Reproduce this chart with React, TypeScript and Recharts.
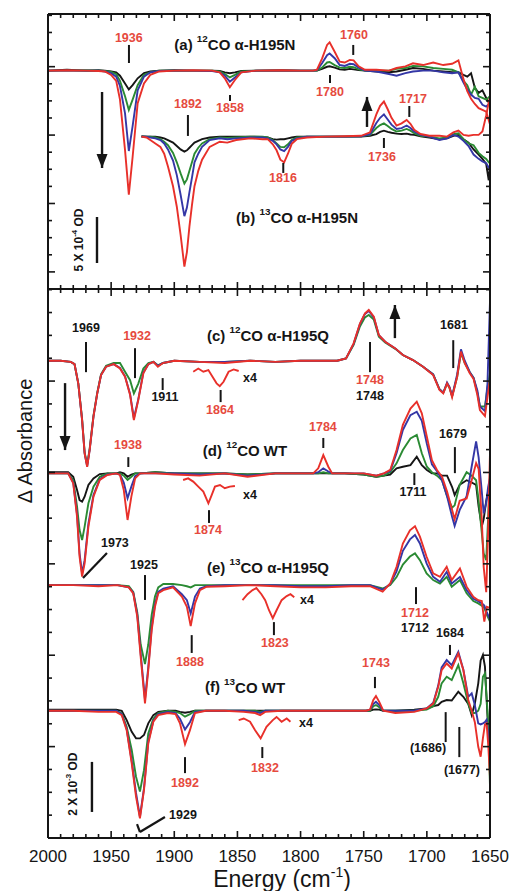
import React from "react";
import { LineChart, Line, XAxis, YAxis, ReferenceLine, ReferenceDot } from "recharts";

const FONT = "'Liberation Sans', Arial, Helvetica, sans-serif";
const RED = "#e8302a";
const BLUE = "#3437a6";
const GREEN = "#2a8a33";
const INK = "#151515";
const LABEL_RED = "#e64a3e";

// axis ticks (cm-1 and offset units)
const X_MINOR = [2000, 1990, 1980, 1970, 1960, 1950, 1940, 1930, 1920, 1910, 1900, 1890, 1880, 1870, 1860, 1850, 1840, 1830, 1820, 1810, 1800, 1790, 1780, 1770, 1760, 1750, 1740, 1730, 1720, 1710, 1700, 1690, 1680, 1670, 1660, 1650];
const X_MAJOR = [2000, 1950, 1900, 1850, 1800, 1750, 1700, 1650];
const TOP_Y_MINOR = [0, 2, 4, 6, 8, 10, 12, 14, 16, 18, 20, 22, 24, 26, 28, 30, 32];
const TOP_Y_MAJOR = [2, 10, 18, 26];
const BOT_Y_MINOR = [0, 1, 2, 3, 4, 5, 6, 7, 8, 9, 10, 11, 12, 13, 14, 15, 16, 17, 18, 19, 20, 21, 22, 23, 24];
const BOT_Y_MAJOR = [4, 8, 12, 16, 20];

// baseline offsets of the stacked difference spectra
const OFFSET = { a: 25.54, b: 17.82, c: 20.89, d: 15.96, e: 11.07, f: 5.57, ic: 20.48, id: 15.67, ie: 10.63, if: 5.16 };

// (a) 12CO a-H195N
const A_X = [2000, 1985, 1970, 1960, 1955, 1950, 1946, 1943, 1939, 1936, 1933, 1929, 1924, 1919, 1912, 1900, 1885, 1870, 1864, 1860, 1856, 1852, 1847, 1835, 1815, 1800, 1790, 1787, 1783, 1779, 1777, 1773, 1769, 1765, 1761, 1758, 1754, 1749, 1740, 1730, 1724, 1717, 1711, 1703, 1695, 1687, 1680, 1675, 1671, 1668, 1665, 1662, 1659, 1656, 1653, 1650];
const A_BLACK = [0, 0.1, 0, 0.05, 0, -0.1, -0.2, -0.6, -1.5, -2.2, -1.7, -0.9, -0.3, -0.1, 0, 0.05, 0, 0, -0.05, -0.2, -0.3, -0.2, -0.05, 0, 0.05, 0, 0, 0, 0.2, 0.45, 0.5, 0.35, 0.15, 0.1, 0.2, 0.15, 0.05, 0, -0.1, -0.2, -0.1, 0.1, 0.3, 0.2, 0, -0.1, -0.2, -0.2, -0.5, -0.7, -0.3, -2.0, -2.6, -2.3, -3.2, -4.0];
const A_GREEN = [0, 0, 0.05, 0, -0.05, -0.15, -0.4, -1.2, -3.0, -4.6, -3.4, -1.7, -0.5, -0.2, 0, 0, 0, 0, -0.1, -0.4, -0.8, -0.5, -0.1, 0, 0, 0, 0, 0, 0.35, 0.95, 1.0, 0.65, 0.35, 0.3, 0.45, 0.4, 0.15, 0, 0, 0, 0.2, 0.3, 0.55, 0.5, 0.3, 0.2, 0.1, -0.2, -1.2, -1.7, -2.8, -1.9, -3.0, -3.2, -3.4, -3.0];
const A_BLUE = [0, 0, 0, 0, -0.1, -0.3, -0.7, -1.8, -5.0, -9.4, -6.5, -2.3, -0.7, -0.2, -0.05, 0, 0, -0.05, -0.2, -0.6, -1.3, -0.8, -0.2, 0, 0, 0, 0, 0.05, 0.85, 1.8, 2.0, 1.45, 0.65, 0.55, 0.8, 0.75, 0.35, 0, -0.1, -0.4, -0.6, -0.3, -0.1, 0, 0, -0.2, -0.3, -0.2, -1.4, -2.2, -2.8, -3.2, -3.3, -4.0, -4.2, -3.8];
const A_RED = [0, 0.05, 0, -0.05, -0.1, -0.5, -1.2, -3.4, -9.3, -14.5, -10.1, -3.8, -1.5, -0.5, -0.1, 0, 0.05, 0, -0.2, -0.9, -1.95, -1.1, -0.2, 0, 0.05, 0, 0, 0.1, 1.4, 3.0, 3.3, 2.2, 1.05, 0.95, 1.25, 1.2, 0.5, 0.1, 0.1, 0, 0.3, 0.5, 0.85, 0.65, 0.95, 0.65, 0.8, 1.2, -1.0, -2.4, -3.3, -3.9, -4.4, -4.6, -4.8, -6.3];

// (b) 13CO a-H195N
const B_X = [1926, 1922, 1919, 1915, 1911, 1908, 1905, 1901, 1898, 1895, 1892, 1890, 1888, 1886, 1884, 1881, 1878, 1872, 1864, 1858, 1851, 1840, 1830, 1826, 1822, 1819, 1816, 1813, 1810, 1807, 1803, 1795, 1780, 1765, 1752, 1745, 1740, 1737, 1734, 1731, 1728, 1724, 1720, 1716, 1713, 1710, 1705, 1698, 1690, 1684, 1679, 1675, 1671, 1667, 1663, 1659, 1656, 1653, 1651, 1650];
const B_BLACK = [0.05, 0, 0, 0, -0.1, -0.2, -0.4, -0.7, -1.1, -1.5, -1.75, -1.6, -1.3, -1.0, -0.7, -0.5, -0.3, -0.1, 0, 0, 0, 0, -0.05, -0.1, -0.3, -0.35, -0.3, -0.3, -0.2, -0.1, 0, 0, 0, 0, 0, 0.1, 0.3, 0.55, 0.7, 0.55, 0.45, 0.35, 0.3, 0.35, 0.25, 0.2, 0.05, -0.1, -0.3, -0.2, 0.1, 0.2, -0.3, -0.7, -1.5, -2.1, -2.6, -3.2, -5.1, -3.5];
const B_GREEN = [0, 0, 0, -0.1, -0.3, -0.6, -1.0, -1.9, -3.0, -4.3, -5.5, -5.0, -4.0, -3.0, -2.0, -1.3, -0.8, -0.3, -0.1, -0.15, -0.1, 0, 0, -0.1, -0.4, -0.8, -1.2, -1.25, -0.9, -0.4, -0.1, 0, 0, 0, 0.05, 0.2, 1.0, 1.35, 1.55, 1.25, 0.9, 0.6, 0.7, 0.9, 0.7, 0.4, 0.1, 0, -0.2, -0.1, 0.3, 0.4, -0.3, -0.8, -1.0, -1.9, -2.3, -2.6, -3.0, -3.1];
const B_BLUE = [0, 0, -0.1, -0.2, -0.4, -0.8, -1.5, -2.8, -4.5, -6.8, -9.3, -8.3, -6.5, -4.8, -3.0, -2.0, -1.2, -0.4, -0.2, -0.3, -0.2, -0.1, -0.1, -0.2, -0.5, -0.9, -1.5, -1.7, -1.2, -0.5, -0.2, 0, 0, 0, 0.05, 0.3, 1.6, 2.2, 2.6, 2.0, 1.4, 0.9, 1.0, 1.3, 1.0, 0.6, 0.2, 0, -0.4, -0.2, 0.2, 0, -0.5, -1.1, -2.1, -2.6, -2.9, -3.1, -3.6, -3.9];
const B_RED = [0, -0.1, -0.4, -0.8, -1.2, -2.0, -3.5, -5.8, -8.2, -11.5, -15.2, -13.5, -10.5, -8.0, -5.8, -4.0, -2.7, -1.2, -0.6, -0.7, -0.4, -0.2, -0.3, -0.3, -0.9, -1.6, -2.7, -3.0, -2.0, -0.85, -0.3, -0.1, 0, 0.05, 0.1, 0.5, 2.6, 3.6, 4.1, 3.2, 2.2, 1.3, 1.55, 1.95, 1.5, 0.8, 0.3, 0.1, 0.1, 0, 0.5, 0.7, 0.2, 0.1, 0.2, 0.2, 0.6, 2.5, 4.0, 4.6];

// (c) 12CO a-H195Q
const C_X = [2000, 1990, 1982, 1979, 1976, 1973, 1971, 1969, 1967, 1964, 1961, 1958, 1954, 1948, 1943, 1939, 1935, 1932, 1928.5, 1924.5, 1920.5, 1916.5, 1913, 1909, 1900, 1880, 1860, 1840, 1820, 1800, 1780, 1771, 1764, 1758, 1753, 1749, 1746, 1742, 1738, 1733, 1725, 1719, 1711, 1703, 1695, 1690, 1687, 1684, 1682, 1680, 1676, 1673, 1670, 1666, 1663, 1660, 1658, 1654, 1652, 1650];
const C_GREEN = [0, 0, -0.05, -0.15, -1.0, -2.55, -4.0, -4.55, -3.85, -2.4, -1.4, -0.6, -0.22, -0.1, -0.1, -0.48, -0.85, -1.43, -1.0, -0.34, -0.1, -0.05, -0.2, -0.1, 0, -0.05, -0.05, 0, -0.05, 0, 0, 0, 0.1, 0.7, 1.5, 1.9, 2.0, 1.8, 1.05, 0.8, 0.52, 0.25, 0.03, -0.26, -0.6, -1.25, -1.4, -1.0, -1.2, -1.55, -0.7, 0.35, -0.1, -0.5, -0.75, -1.4, -2.0, -2.0, -1.2, -0.5];
const C_BLUE = [0, 0, -0.05, -0.15, -1.0, -2.6, -4.05, -4.62, -3.9, -2.45, -1.43, -0.63, -0.26, -0.15, -0.32, -0.68, -1.45, -2.52, -1.68, -0.52, -0.15, -0.05, -0.22, -0.1, 0, -0.05, -0.05, 0, -0.05, 0, 0, 0, 0.1, 0.74, 1.6, 2.05, 2.18, 1.9, 1.12, 0.83, 0.54, 0.25, 0.03, -0.26, -0.6, -1.25, -1.4, -0.95, -1.15, -1.55, -0.6, 0.5, 0, -0.5, -0.75, -1.3, -2.0, -2.2, -1.0, 2.6];
const C_RED = [0, 0, -0.05, -0.15, -1.0, -2.6, -4.05, -4.64, -3.9, -2.45, -1.43, -0.63, -0.26, -0.15, -0.34, -0.7, -1.5, -2.6, -1.72, -0.55, -0.15, -0.05, -0.26, -0.1, 0, -0.05, -0.1, 0, -0.05, 0, 0, 0, 0.1, 0.76, 1.63, 2.07, 2.22, 1.93, 1.12, 0.83, 0.54, 0.25, 0.03, -0.26, -0.63, -1.28, -1.43, -1.0, -1.2, -1.6, -0.7, 0.4, -0.1, -0.55, -0.8, -1.5, -2.16, -2.42, -1.6, -0.8];

// (d) 12CO WT
const D_X = [2000, 1990, 1984, 1980, 1977, 1975, 1973, 1971, 1968, 1964, 1959, 1953, 1946, 1943, 1940, 1937, 1934, 1931, 1927, 1915, 1900, 1880, 1860, 1842, 1820, 1800, 1790, 1786, 1782, 1778, 1775, 1765, 1750, 1740, 1734, 1729, 1724, 1719, 1713, 1708, 1704, 1700, 1696, 1692, 1688, 1684, 1680, 1678, 1674, 1668.5, 1664.5, 1661, 1659, 1656.5, 1655, 1653, 1651.5, 1650];
const D_BLACK = [0.05, 0.05, 0.05, -0.15, -0.73, -1.17, -1.24, -1.02, -0.51, -0.22, -0.03, 0, 0, 0.05, 0, -0.15, -0.05, 0, 0, 0.05, 0, 0, 0, -0.05, 0, 0, 0, 0, 0, 0, 0, 0, -0.05, -0.15, -0.1, -0.05, 0.22, 0.29, 0.36, 0.73, 0.36, 0.15, 0, 0, -0.1, -0.1, -0.6, -0.95, -0.5, -0.3, -0.4, -0.5, -1.46, -2.33, -2.0, -1.2, -0.8, -0.5];
const D_GREEN = [0, 0, 0, -0.3, -1.46, -2.48, -2.92, -2.33, -1.31, -0.58, -0.15, 0, 0, 0, -0.1, -0.29, -0.15, 0, 0, 0.05, 0, 0, 0, -0.05, 0, 0, 0, 0, 0.05, 0, 0, 0, -0.05, -0.15, -0.1, 0.05, 0.44, 1.02, 1.53, 1.68, 0.88, 0.29, 0.05, -0.1, -0.3, -1.0, -1.5, -1.4, -0.5, 0.05, -0.1, -0.3, -1.2, -2.6, -3.5, -3.8, -2.0, 0];
const D_BLUE = [0, 0, 0, -0.4, -1.8, -3.5, -4.38, -3.8, -2.2, -0.95, -0.25, -0.05, 0, -0.05, -0.4, -1.09, -0.58, -0.12, 0, 0, 0, -0.05, 0, -0.1, 0, 0, 0, 0.05, 0.22, 0.08, 0, 0, 0, -0.1, 0, 0.1, 0.88, 1.9, 2.55, 2.7, 2.3, 1.3, 0.4, 0.1, -0.3, -1.0, -1.9, -2.3, -1.6, -1.0, 0.3, 1.4, 0.7, -0.8, -1.75, -1.3, -0.6, -0.2];
const D_RED = [0, 0, 0, -0.44, -1.9, -3.65, -4.52, -3.94, -2.33, -1.02, -0.29, -0.07, 0, -0.07, -0.73, -2.04, -1.02, -0.22, 0, 0, -0.05, -0.1, 0, -0.15, 0, 0, 0, 0.22, 0.8, 0.29, 0, 0, 0, -0.1, 0, 0.15, 1.02, 2.12, 2.84, 3.14, 2.63, 1.6, 0.58, 0.15, -0.15, -0.8, -1.6, -2.0, -1.2, -1.1, -0.3, 0.45, 0.2, -2.0, -4.1, -5.2, -2.6, 0.9];

// (e) 13CO a-H195Q
const E_X = [2000, 1980, 1960, 1945, 1936, 1932.5, 1929.3, 1926.6, 1923.2, 1920.6, 1917.9, 1915.3, 1912.7, 1908.7, 1901, 1894, 1890, 1887, 1883.6, 1879.7, 1874.4, 1860, 1840, 1820, 1800, 1780, 1760, 1745, 1735, 1729, 1724, 1719, 1713.4, 1709.4, 1705.5, 1700.2, 1695, 1689.6, 1684.3, 1680.3, 1673.8, 1668.5, 1663.2, 1659.3, 1656.5, 1654.5, 1652.5, 1650];
const E_GREEN = [0, 0, 0, 0, -0.05, -0.3, -1.2, -2.6, -3.46, -2.6, -1.3, -0.5, -0.1, 0.05, 0.05, 0, -0.05, -0.1, 0, 0, 0, 0, 0, 0, 0, 0, 0, 0, -0.15, 0, 0.35, 0.9, 1.25, 1.39, 1.09, 0.51, 0.22, 0.07, 0.36, -0.07, 0.22, -0.36, -0.7, -0.8, -0.9, -1.0, -1.3, -1.6];
const E_BLUE = [0, 0, 0, 0, -0.1, -0.33, -1.3, -3.0, -5.0, -3.6, -1.85, -0.85, -0.3, -0.15, -0.05, -0.4, -0.66, -1.24, -0.5, -0.15, -0.05, 0, 0, 0, -0.05, -0.05, 0, 0, -0.2, 0.05, 0.6, 1.5, 2.0, 2.19, 1.82, 0.95, 0.36, 0.15, 0.58, 0.07, 0.36, -0.22, -0.6, -0.7, -0.8, -0.9, -1.2, -1.5];
const E_RED = [0, 0, -0.05, 0, -0.1, -0.36, -1.39, -3.14, -5.18, -3.72, -1.97, -0.95, -0.36, -0.22, -0.1, -0.5, -0.95, -1.79, -0.8, -0.22, -0.07, -0.05, 0, -0.05, -0.1, -0.1, -0.05, -0.05, -0.29, 0.07, 0.8, 1.82, 2.4, 2.58, 2.12, 1.24, 0.51, 0.36, 0.8, 0.22, 0.73, -0.07, -0.51, -0.66, -0.7, -1.6, -0.95, -1.0];

// (f) 13CO WT
const F_X = [2000, 1980, 1960, 1946, 1941.6, 1937.7, 1933.7, 1930.3, 1927.2, 1924, 1920.6, 1916.6, 1912.7, 1905, 1899, 1895.5, 1891.5, 1887.6, 1883.6, 1875, 1860, 1845, 1836, 1832, 1828, 1815, 1790, 1760, 1748, 1745, 1742.4, 1740.3, 1737.7, 1734.5, 1725, 1710, 1700.2, 1694.9, 1691, 1688.3, 1684.3, 1680.3, 1675.1, 1671.1, 1667.2, 1664.5, 1662, 1659.3, 1657.4, 1655.6, 1654, 1652.7, 1651.4, 1650];
const F_BLACK = [0.05, 0.05, 0.05, 0.05, 0, -0.41, -0.92, -1.21, -1.21, -1.06, -0.55, -0.19, -0.05, 0, 0, -0.05, -0.09, -0.05, 0, 0, 0, 0, 0, 0, 0, 0, 0, 0, 0, 0, 0.05, 0.06, 0.05, 0, 0, 0.05, 0.1, 0.2, 0.25, 0.39, 0.47, 0.45, 0.83, 0.61, 0.3, -0.19, 0.32, 1.2, 2.2, 2.44, 1.93, 0.5, -0.85, -2.0];
const F_GREEN = [0, 0, 0, 0, -0.12, -0.7, -1.72, -2.89, -3.54, -2.6, -0.99, -0.35, -0.1, 0, -0.05, -0.1, -0.26, -0.15, 0, 0, 0, 0, 0, -0.05, 0, 0, 0, 0, 0, 0, 0.2, 0.25, 0.15, 0, 0, 0, 0.05, 0.2, 0.61, 1.2, 1.49, 1.34, 2.0, 1.2, 0.32, -0.1, -0.1, 0, 0.3, 1.49, 1.63, 0.6, -0.55, -3.3];
const F_BLUE = [0, 0, 0, 0, -0.15, -0.8, -2.2, -3.6, -4.64, -3.4, -1.35, -0.45, -0.15, -0.05, -0.1, -0.35, -0.82, -0.5, -0.05, 0, 0, 0, -0.05, -0.1, 0, 0, 0, 0, 0, 0.05, 0.3, 0.39, 0.25, 0, 0, 0, 0.1, 0.35, 1.1, 1.9, 2.22, 2.0, 2.58, 1.8, 0.61, 0.76, 0.25, -0.55, -0.6, -0.55, -0.5, -0.4, -1.0, -2.0];
const F_RED = [0, 0, -0.05, -0.05, -0.19, -0.85, -2.3, -3.76, -4.71, -3.47, -1.43, -0.48, -0.19, -0.1, -0.15, -0.55, -1.46, -0.85, -0.1, 0, 0, -0.05, -0.1, -0.19, -0.05, 0, 0, 0, 0, 0.05, 0.47, 0.64, 0.39, 0, -0.1, -0.05, 0.1, 0.32, 1.05, 1.78, 2.07, 1.85, 2.51, 1.78, 0.47, 0, -0.5, -1.58, -2.01, -1.2, -0.6, -0.55, -1.5, -2.9];

// x4 expanded insets (red trace)
const IC_X = [1885, 1881, 1877, 1873, 1869, 1866.5, 1864, 1861, 1857, 1853, 1849];
const IC_Y = [-0.07, 0.07, -0.07, 0, -0.36, -0.58, -0.7, -0.51, -0.07, 0.03, -0.04];
const ID_X = [1893, 1889, 1885, 1881, 1877, 1873, 1870.4, 1867.8, 1863.8, 1860, 1856, 1852];
const ID_Y = [0, 0.07, -0.07, -0.29, -0.51, -1.02, -0.66, -0.29, -0.22, -0.36, -0.29, -0.26];
const IE_X = [1846, 1842, 1838, 1835, 1831, 1828, 1825, 1822, 1819, 1815, 1811, 1808, 1805];
const IE_Y = [-0.22, 0.04, 0.22, 0.31, 0.04, -0.22, -0.66, -1.01, -0.66, -0.22, -0.04, 0.04, -0.09];
const IF_X = [1849, 1845, 1840, 1836, 1831.6, 1827, 1822, 1819, 1815, 1811, 1808];
const IF_Y = [0, 0.07, -0.07, -0.44, -0.8, -0.29, 0, 0.14, -0.07, 0.07, -0.07];

type Pt = { x: number; y: number };
const stack = (xs: number[], ys: number[], off: number): Pt[] => xs.map((x, i) => ({ x, y: ys[i] + off }));

type Series = { id: string; color: string; data: Pt[] };

const TOP_SERIES: Series[] = [
  { id: "a-k", color: INK, data: stack(A_X, A_BLACK, OFFSET.a) },
  { id: "a-g", color: GREEN, data: stack(A_X, A_GREEN, OFFSET.a) },
  { id: "a-b", color: BLUE, data: stack(A_X, A_BLUE, OFFSET.a) },
  { id: "a-r", color: RED, data: stack(A_X, A_RED, OFFSET.a) },
  { id: "b-k", color: INK, data: stack(B_X, B_BLACK, OFFSET.b) },
  { id: "b-g", color: GREEN, data: stack(B_X, B_GREEN, OFFSET.b) },
  { id: "b-b", color: BLUE, data: stack(B_X, B_BLUE, OFFSET.b) },
  { id: "b-r", color: RED, data: stack(B_X, B_RED, OFFSET.b) },
];

const BOTTOM_SERIES: Series[] = [
  { id: "c-g", color: GREEN, data: stack(C_X, C_GREEN, OFFSET.c) },
  { id: "c-b", color: BLUE, data: stack(C_X, C_BLUE, OFFSET.c) },
  { id: "c-r", color: RED, data: stack(C_X, C_RED, OFFSET.c) },
  { id: "d-k", color: INK, data: stack(D_X, D_BLACK, OFFSET.d) },
  { id: "d-g", color: GREEN, data: stack(D_X, D_GREEN, OFFSET.d) },
  { id: "d-b", color: BLUE, data: stack(D_X, D_BLUE, OFFSET.d) },
  { id: "d-r", color: RED, data: stack(D_X, D_RED, OFFSET.d) },
  { id: "e-g", color: GREEN, data: stack(E_X, E_GREEN, OFFSET.e) },
  { id: "e-b", color: BLUE, data: stack(E_X, E_BLUE, OFFSET.e) },
  { id: "e-r", color: RED, data: stack(E_X, E_RED, OFFSET.e) },
  { id: "f-k", color: INK, data: stack(F_X, F_BLACK, OFFSET.f) },
  { id: "f-g", color: GREEN, data: stack(F_X, F_GREEN, OFFSET.f) },
  { id: "f-b", color: BLUE, data: stack(F_X, F_BLUE, OFFSET.f) },
  { id: "f-r", color: RED, data: stack(F_X, F_RED, OFFSET.f) },
  { id: "ic", color: RED, data: stack(IC_X, IC_Y, OFFSET.ic) },
  { id: "id", color: RED, data: stack(ID_X, ID_Y, OFFSET.id) },
  { id: "ie", color: RED, data: stack(IE_X, IE_Y, OFFSET.ie) },
  { id: "if", color: RED, data: stack(IF_X, IF_Y, OFFSET.if) },
];

type Note = { x: number; y: number; t: string; red?: boolean; sup?: [string, string]; title?: boolean; rot?: boolean };

const TOP_NOTES: Note[] = [
  { x: 1936, y: 29.36, t: "1936", red: true },
  { x: 1852, y: 28.65, t: "(a) ", sup: ["12", "CO \u03b1-H195N"], title: true },
  { x: 1757.7, y: 29.7, t: "1760", red: true },
  { x: 1855.9, y: 21.17, t: "1858", red: true },
  { x: 1776.7, y: 23.04, t: "1780", red: true },
  { x: 1889.2, y: 21.64, t: "1892", red: true },
  { x: 1711, y: 22.22, t: "1717", red: true },
  { x: 1735.5, y: 15.44, t: "1736", red: true },
  { x: 1813.9, y: 12.98, t: "1816", red: true },
  { x: 1802.8, y: 8.42, t: "(b) ", sup: ["13", "CO \u03b1-H195N"], title: true },
  { x: 1975.5, y: 5.73, t: "5 X 10", sup: ["-4", " OD"], rot: true },
];

const BOTTOM_NOTES: Note[] = [
  { x: 1969.9, y: 22.32, t: "1969" },
  { x: 1929.5, y: 21.97, t: "1932", red: true },
  { x: 1907.4, y: 19.3, t: "1911" },
  { x: 1825.8, y: 22.01, t: "(c) ", sup: ["12", "CO \u03b1-H195Q"], title: true },
  { x: 1840, y: 20.13, t: "x4" },
  { x: 1863.8, y: 18.73, t: "1864", red: true },
  { x: 1745, y: 20.04, t: "1748", red: true },
  { x: 1745, y: 19.34, t: "1748" },
  { x: 1678.5, y: 22.45, t: "1681" },
  { x: 1936.7, y: 17.2, t: "1938", red: true },
  { x: 1844, y: 16.98, t: "(d) ", sup: ["12", "CO WT"], title: true },
  { x: 1782.3, y: 17.99, t: "1784", red: true },
  { x: 1679.3, y: 17.68, t: "1679" },
  { x: 1840, y: 15.01, t: "x4" },
  { x: 1873.3, y: 13.48, t: "1874", red: true },
  { x: 1711, y: 15.14, t: "1711" },
  { x: 1947, y: 12.91, t: "1973" },
  { x: 1924, y: 11.95, t: "1925" },
  { x: 1825.8, y: 11.86, t: "(e) ", sup: ["13", "CO \u03b1-H195Q"], title: true },
  { x: 1794.9, y: 10.42, t: "x4" },
  { x: 1887.6, y: 7.7, t: "1888", red: true },
  { x: 1820.3, y: 8.53, t: "1823", red: true },
  { x: 1709.4, y: 9.85, t: "1712", red: true },
  { x: 1709.4, y: 9.19, t: "1712" },
  { x: 1681.7, y: 8.97, t: "1684" },
  { x: 1740.3, y: 7.66, t: "1743", red: true },
  { x: 1844, y: 6.61, t: "(f) ", sup: ["13", "CO WT"], title: true },
  { x: 1795.7, y: 5.03, t: "x4" },
  { x: 1828.2, y: 3.06, t: "1832", red: true },
  { x: 1891.5, y: 2.41, t: "1892", red: true },
  { x: 1699.1, y: 3.94, t: "(1686)" },
  { x: 1672.2, y: 2.98, t: "(1677)" },
  { x: 1980.2, y: 2.36, t: "2 X 10", sup: ["-3", " OD"], rot: true },
  { x: 1893.1, y: 1.01, t: "1929" },
];

// [x, yFrom, yTo] marker sticks
const TOP_STICKS = [[1935.9, 28.54, 26.43], [1758.3, 28.54, 27.37], [1855.9, 22.69, 21.99], [1776.7, 25.03, 24.09], [1889.2, 20.35, 17.9], [1713.9, 21.4, 20.12], [1734, 17.66, 16.49], [1813.7, 14.74, 13.57]];
const BOTTOM_STICKS = [[1969.9, 21.71, 20.39], [1931.1, 21.44, 20.13], [1909.2, 20.13, 19.61], [1863.3, 19.61, 19.08], [1745, 21.71, 20.39], [1679.1, 21.79, 20.57], [1936.4, 16.67, 16.24], [1782, 17.51, 17.07], [1677.8, 17.11, 15.97], [1872.5, 14.35, 13.79], [1709.9, 15.97, 15.45], [1923.2, 11.51, 10.42], [1886.2, 8.88, 8.1], [1821.1, 9.45, 8.88], [1708.6, 10.98, 10.24], [1681.7, 8.45, 8.01], [1741.1, 7.05, 6.56], [1830.3, 3.98, 3.5], [1891.5, 3.54, 2.84], [1685.1, 5.51, 4.2], [1674.3, 4.86, 3.54]];
const TOP_BAR = [1961.2, 8.42, 3.04];
const BOTTOM_BAR = [1965.2, 3.33, 1.14];
// [x, tail, head]
const TOP_ARROWS = [[1747.4, 18.95, 22.46], [1957.2, 23.04, 14.15]];
const BOTTOM_ARROWS = [[1725.3, 21.88, 23.33], [1986.5, 19.91, 16.98]];
const BOTTOM_LEADERS = [[1972.3, 11.38, 1953.3, 12.47], [1927.2, 0.26, 1907.4, 0.92], [1927.2, 0.26, 1929.5, 0.61]];

// plot boxes in page pixels (shared by both charts' margins)
const PLOT_LEFT = 48;
const PLOT_RIGHT = 490;
const TOP_BOX = { top: 14, bottom: 289 };
const BOT_BOX = { top: 289, bottom: 838 };
const PX_PER_CM = (PLOT_RIGHT - PLOT_LEFT) / 350;
const TOP_MAX = 32.16;
const BOT_MAX = 24.03;

const noteShape = (n: Note) => (p: any) => {
  const size = n.title ? 15 : n.rot ? 12 : 12.5;
  const fill = n.red ? LABEL_RED : INK;
  return (
    <text
      x={p.cx}
      y={p.cy}
      textAnchor="middle"
      dominantBaseline="central"
      fontFamily={FONT}
      fontWeight="bold"
      fontSize={size}
      fill={fill}
      transform={n.rot ? `rotate(-90 ${p.cx} ${p.cy})` : undefined}
    >
      {n.t}
      {n.sup ? <tspan fontSize={size * 0.66} dy={-size * 0.42}>{n.sup[0]}</tspan> : null}
      {n.sup ? <tspan dy={size * 0.42}>{n.sup[1]}</tspan> : null}
    </text>
  );
};

const headShape = (up: boolean) => (p: any) => (
  <path d={up ? `M${p.cx},${p.cy} l-5.5,14 l11,0 Z` : `M${p.cx},${p.cy} l-5.5,-14 l11,0 Z`} fill={INK} />
);

const frame = { stroke: INK, strokeWidth: 2 };

// frame outline: 1px mirrored axes (recharts skips zero-size axes); each pair carries an invisible line
function frameAxes(yDomain: number[], carrier: Pt[]) {
  const xCommon = { dataKey: "x", type: "number" as const, domain: [1650, 2000], reversed: true, allowDataOverflow: true, height: 1, tick: false as const, tickLine: false, mirror: true, axisLine: frame };
  const yCommon = { type: "number" as const, domain: yDomain, allowDataOverflow: true, width: 1, tick: false as const, tickLine: false, mirror: true, axisLine: frame };
  return [
    <XAxis key="xb" xAxisId="xb" orientation="bottom" {...xCommon} />,
    <XAxis key="xt" xAxisId="xt" orientation="top" {...xCommon} />,
    <YAxis key="yl" yAxisId="yl" orientation="left" {...yCommon} />,
    <YAxis key="yr" yAxisId="yr" orientation="right" {...yCommon} />,
    <Line key="ghost-b" xAxisId="xb" yAxisId="yl" data={carrier} dataKey="y" stroke="none" strokeWidth={0} dot={false} activeDot={false} isAnimationActive={false} legendType="none" />,
    <Line key="ghost-t" xAxisId="xt" yAxisId="yr" data={carrier} dataKey="y" stroke="none" strokeWidth={0} dot={false} activeDot={false} isAnimationActive={false} legendType="none" />,
  ];
}

// inward tick marks for one framed panel, placed with the same linear mapping as the chart's plot box
function FrameTicks({ box, yMax, yTicks, yMajor }: { box: { top: number; bottom: number }; yMax: number; yTicks: number[]; yMajor: number[] }) {
  const px = (x: number) => PLOT_LEFT + (2000 - x) * PX_PER_CM;
  const py = (y: number) => box.bottom - (y / yMax) * (box.bottom - box.top);
  const lines: React.ReactNode[] = [];
  X_MINOR.forEach((x) => {
    const len = X_MAJOR.includes(x) ? 7 : 4;
    lines.push(<line key={"b" + x} x1={px(x)} x2={px(x)} y1={box.bottom} y2={box.bottom - len} />);
    lines.push(<line key={"t" + x} x1={px(x)} x2={px(x)} y1={box.top} y2={box.top + len} />);
  });
  yTicks.forEach((y) => {
    const len = yMajor.includes(y) ? 7 : 4;
    lines.push(<line key={"l" + y} x1={PLOT_LEFT} x2={PLOT_LEFT + len} y1={py(y)} y2={py(y)} />);
    lines.push(<line key={"r" + y} x1={PLOT_RIGHT} x2={PLOT_RIGHT - len} y1={py(y)} y2={py(y)} />);
  });
  return <g stroke={INK} strokeWidth={1.6}>{lines}</g>;
}

function dataLines(series: Series[]) {
  return series.map((s) => (
    <Line
      key={s.id}
      name={s.id}
      xAxisId="x"
      yAxisId="y"
      data={s.data}
      dataKey="y"
      type="linear"
      stroke={s.color}
      strokeWidth={1.9}
      dot={false}
      activeDot={false}
      isAnimationActive={false}
    />
  ));
}

function notes(list: Note[], prefix: string) {
  return list.map((n, i) => (
    <ReferenceDot key={prefix + i} xAxisId="x" yAxisId="y" x={n.x} y={n.y} r={0} ifOverflow="visible" shape={noteShape(n)} />
  ));
}

function sticks(list: number[][], prefix: string, width = 2) {
  return list.map((s, i) => (
    <ReferenceLine
      key={prefix + i}
      xAxisId="x"
      yAxisId="y"
      segment={[{ x: s[0], y: s[1] }, { x: s[0], y: s[2] }]}
      stroke={INK}
      strokeWidth={width}
      ifOverflow="visible"
    />
  ));
}

function arrows(list: number[][], prefix: string) {
  const out: React.ReactNode[] = [];
  list.forEach((a, i) => {
    const up = a[2] > a[1];
    out.push(
      <ReferenceLine key={prefix + "s" + i} xAxisId="x" yAxisId="y" segment={[{ x: a[0], y: a[1] }, { x: a[0], y: a[2] }]} stroke={INK} strokeWidth={2.4} ifOverflow="visible" />
    );
    out.push(
      <ReferenceDot key={prefix + "h" + i} xAxisId="x" yAxisId="y" x={a[0]} y={a[2]} r={0} ifOverflow="visible" shape={headShape(up)} />
    );
  });
  return out;
}

export default function App() {
  const topCarrier = TOP_SERIES[0].data;
  const botCarrier = BOTTOM_SERIES[0].data;
  return (
    <div style={{ position: "absolute", left: 0, top: 0, width: 512, height: 891, background: "#fff", fontFamily: FONT }}>
      <div style={{ position: "absolute", left: 0, top: 0 }}>
        <LineChart width={512} height={300} margin={{ top: TOP_BOX.top, right: 512 - PLOT_RIGHT, bottom: 300 - TOP_BOX.bottom, left: PLOT_LEFT }}>
          <XAxis xAxisId="x" dataKey="x" type="number" domain={[1650, 2000]} reversed allowDataOverflow hide />
          <YAxis yAxisId="y" type="number" domain={[0, TOP_MAX]} allowDataOverflow hide />
          {frameAxes([0, TOP_MAX], topCarrier)}
          {dataLines(TOP_SERIES)}
          {sticks(TOP_STICKS, "ts")}
          {sticks([TOP_BAR], "tb", 2.4)}
          {arrows(TOP_ARROWS, "ta")}
          {notes(TOP_NOTES, "tn")}
        </LineChart>
      </div>
      <div style={{ position: "absolute", left: 0, top: 0 }}>
        <LineChart width={512} height={891} margin={{ top: BOT_BOX.top, right: 512 - PLOT_RIGHT, bottom: 891 - BOT_BOX.bottom - 1, left: PLOT_LEFT }}>
          <XAxis xAxisId="x" dataKey="x" type="number" domain={[1650, 2000]} reversed allowDataOverflow hide />
          <YAxis yAxisId="y" type="number" domain={[0, BOT_MAX]} allowDataOverflow hide />
          {frameAxes([0, BOT_MAX], botCarrier)}
          <XAxis
            xAxisId="lbl"
            dataKey="x"
            orientation="bottom"
            type="number"
            domain={[1650, 2000]}
            reversed
            allowDataOverflow
            height={1}
            ticks={X_MAJOR}
            interval={0}
            tickLine={false}
            axisLine={false}
            tickSize={0}
            tickMargin={12}
            tick={{ fontSize: 17, fill: INK, fontFamily: FONT }}
          />
          <Line xAxisId="lbl" yAxisId="yl" data={botCarrier} dataKey="y" stroke="none" strokeWidth={0} dot={false} activeDot={false} isAnimationActive={false} legendType="none" />
          {dataLines(BOTTOM_SERIES)}
          {sticks(BOTTOM_STICKS, "bs")}
          {sticks([BOTTOM_BAR], "bb", 2.4)}
          {BOTTOM_LEADERS.map((l, i) => (
            <ReferenceLine key={"bl" + i} xAxisId="x" yAxisId="y" segment={[{ x: l[0], y: l[1] }, { x: l[2], y: l[3] }]} stroke={INK} strokeWidth={2.2} ifOverflow="visible" />
          ))}
          {arrows(BOTTOM_ARROWS, "ba")}
          {notes(BOTTOM_NOTES, "bn")}
        </LineChart>
      </div>
      <svg width={512} height={891} style={{ position: "absolute", left: 0, top: 0, pointerEvents: "none" }}>
        <FrameTicks box={TOP_BOX} yMax={TOP_MAX} yTicks={TOP_Y_MINOR} yMajor={TOP_Y_MAJOR} />
        <FrameTicks box={BOT_BOX} yMax={BOT_MAX} yTicks={BOT_Y_MINOR} yMajor={BOT_Y_MAJOR} />
        <text x={282} y={887} textAnchor="middle" fontFamily={FONT} fontSize={23} fill={INK}>
          Energy (cm<tspan fontSize={14} dy={-10}>-1</tspan><tspan dy={10}>)</tspan>
        </text>
        <text x={25} y={441} textAnchor="middle" dominantBaseline="central" fontFamily={FONT} fontSize={20} fill={INK} transform="rotate(-90 25 441)">
          {"\u0394 Absorbance"}
        </text>
      </svg>
    </div>
  );
}
